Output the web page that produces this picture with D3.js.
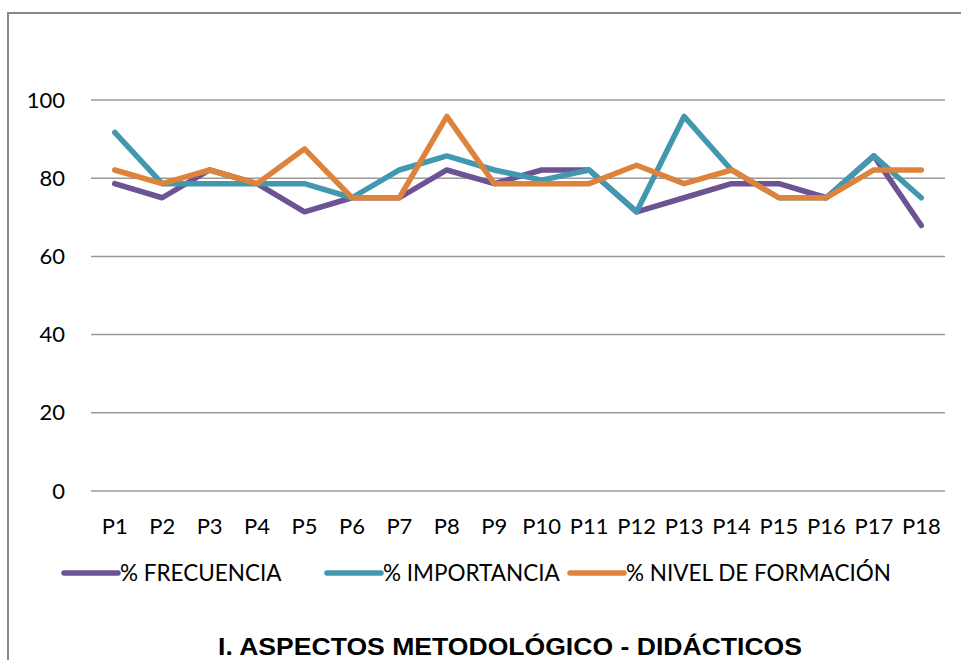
<!DOCTYPE html>
<html><head><meta charset="utf-8">
<script src="https://cdn.jsdelivr.net/npm/d3@7"></script>
<style>body{margin:0;background:#fff}svg{display:block}</style>
</head><body>
<svg id="c" width="961" height="660"></svg>
<script>
const categories = ["P1","P2","P3","P4","P5","P6","P7","P8","P9","P10","P11","P12","P13","P14","P15","P16","P17","P18"];
const frecuencia = [78.6,75,82.1,78.6,71.4,75,75,82.1,78.6,82.1,82.1,71.4,75,78.6,78.6,75,85.7,67.9];
const importancia = [91.7,78.6,78.6,78.6,78.6,75,82.1,85.7,82.1,79.5,82.1,71.4,95.8,82.1,75,75,85.7,75];
const nivel = [82.1,78.6,82.1,78.6,87.5,75,75,95.8,78.6,78.6,78.6,83.3,78.6,82.1,75,75,82.1,82.1];
const seriesNames = ["% FRECUENCIA","% IMPORTANCIA","% NIVEL DE FORMACIÓN"];
const yTicks = [0,20,40,60,80,100];
const title = "I. ASPECTOS METODOLÓGICO - DIDÁCTICOS";

const colors = ["#6D5393","#4198AF","#DE833C"];
const font = "Lato, 'Open Sans', sans-serif";
const svg = d3.select("#c");

// frame
svg.append("path").attr("d","M8,680 L8,13 L965,13").attr("fill","none").attr("stroke","#888").attr("stroke-width",2);

const x = d3.scaleBand().domain(categories).range([91,945]);
const y = d3.scaleLinear().domain([0,100]).range([491,100]);

// gridlines
svg.append("g").selectAll("line").data(yTicks).join("line")
  .attr("x1",91).attr("x2",945).attr("y1",d=>y(d)).attr("y2",d=>y(d))
  .attr("stroke","#999").attr("stroke-width",1.5);

// y axis
const ya = svg.append("g").attr("transform","translate(75,0)")
  .call(d3.axisLeft(y).tickValues(yTicks).tickSize(0).tickPadding(10));
ya.select(".domain").remove();
ya.selectAll("text").attr("font-family",font).attr("font-size",22).attr("fill","#000");

// x axis
const xa = svg.append("g").attr("transform","translate(0,514)")
  .call(d3.axisBottom(x).tickSize(0).tickPadding(4));
xa.select(".domain").remove();
xa.selectAll("text").attr("font-family",font).attr("font-size",22).attr("fill","#000");

const line = d3.line().x((d,i)=>x(categories[i])+x.bandwidth()/2).y(d=>y(d));
[frecuencia, importancia, nivel].forEach((s,k)=>{
  svg.append("path").datum(s).attr("d",line).attr("fill","none")
    .attr("stroke",colors[k]).attr("stroke-width",5.5).attr("stroke-linejoin","round").attr("stroke-linecap","round");
});

// legend
const legX = [64,327,570];
const lg = svg.append("g");
seriesNames.forEach((n,k)=>{
  lg.append("line").attr("x1",legX[k]).attr("x2",legX[k]+54).attr("y1",573).attr("y2",573)
    .attr("stroke",colors[k]).attr("stroke-width",5.5).attr("stroke-linecap","round");
  lg.append("text").attr("x",legX[k]+56).attr("y",581).text(n)
    .attr("font-family",font).attr("font-size",22.5).attr("fill","#000");
});

svg.append("text").attr("x",510).attr("y",655).attr("text-anchor","middle").text(title)
  .attr("font-family","'Liberation Sans', Arial, sans-serif").attr("font-weight","bold").attr("font-size",24)
  .attr("textLength",584).attr("lengthAdjust","spacingAndGlyphs").attr("fill","#000");
</script>
</body></html>
